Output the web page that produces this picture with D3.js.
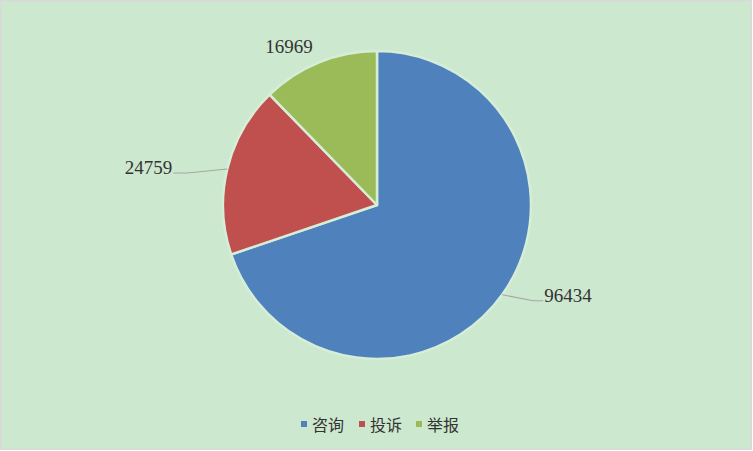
<!DOCTYPE html>
<html>
<head>
<meta charset="utf-8">
<script src="https://cdn.jsdelivr.net/npm/d3@7"></script>
<style>
  html, body { margin: 0; padding: 0; background: #ffffff; }
  svg { display: block; }
</style>
</head>
<body>
<svg id="chart" width="753" height="451"></svg>
<script>
// ---- data ----
const categories = ["咨询", "投诉", "举报"];
const values = [96434, 24759, 16969];
const colors = ["#4f81bd", "#c0504d", "#9bbb59"];

// ---- layout (not data) ----
const W = 753, H = 451;
const cx = 377, cy = 205, R = 154;
// label placement relative to leader anchor on the arc edge
const labelLayout = [
  { elbow: [31, 6], end: [41, 6], tx: 42, ty: 7, anchor: "start", leader: true },
  { elbow: [-40, 4], end: [-54, 4], tx: -55, ty: 5, anchor: "end", leader: true },
  { elbow: null, end: null, tx: -30, ty: -9, anchor: "middle", leader: false }
];

const svg = d3.select("#chart");

// background + border
svg.append("rect")
  .attr("x", 0.75).attr("y", 0.75)
  .attr("width", W - 2.5).attr("height", H - 2.5)
  .attr("fill", "#cce8cf")
  .attr("stroke", "#d9d9d9")
  .attr("stroke-width", 1.5);

const pie = d3.pie().sort(null).value(d => d)
  .startAngle(0).endAngle(2 * Math.PI);
const arcs = pie(values);
const arc = d3.arc().innerRadius(0).outerRadius(R);

const g = svg.append("g").attr("transform", `translate(${cx},${cy})`);

g.selectAll("path.slice")
  .data(arcs)
  .join("path")
  .attr("class", "slice")
  .attr("d", arc)
  .attr("fill", (d, i) => colors[i])
  .attr("stroke", "#d6eed8")
  .attr("stroke-width", 2.5)
  .attr("stroke-linejoin", "round");

// labels
arcs.forEach((d, i) => {
  const mid = (d.startAngle + d.endAngle) / 2;
  const ax = R * Math.sin(mid), ay = -R * Math.cos(mid);
  const L = labelLayout[i];
  if (L.leader) {
    const pts = [[ax, ay], [ax + L.elbow[0], ay + L.elbow[1]], [ax + L.end[0], ay + L.end[1]]];
    g.append("path")
      .attr("d", d3.line()(pts))
      .attr("fill", "none")
      .attr("stroke", "#a6a6a6")
      .attr("stroke-width", 1.2);
  }
  g.append("text")
    .attr("x", ax + L.tx)
    .attr("y", ay + L.ty)
    .attr("text-anchor", L.anchor)
    .attr("font-family", "'Liberation Serif', 'DejaVu Serif', serif")
    .attr("font-size", 19)
    .attr("fill", "#333333")
    .text(values[i]);
});

// legend
const legendX = [301, 359, 416];
const legend = svg.append("g");
categories.forEach((c, i) => {
  legend.append("rect")
    .attr("x", legendX[i]).attr("y", 421)
    .attr("width", 6).attr("height", 6)
    .attr("fill", colors[i]);
  legend.append("text")
    .attr("x", legendX[i] + 11)
    .attr("y", 431)
    .attr("font-family", "'Noto Sans CJK SC', sans-serif")
    .attr("font-size", 16)
    .attr("fill", "#333333")
    .text(c);
});
</script>
</body>
</html>
